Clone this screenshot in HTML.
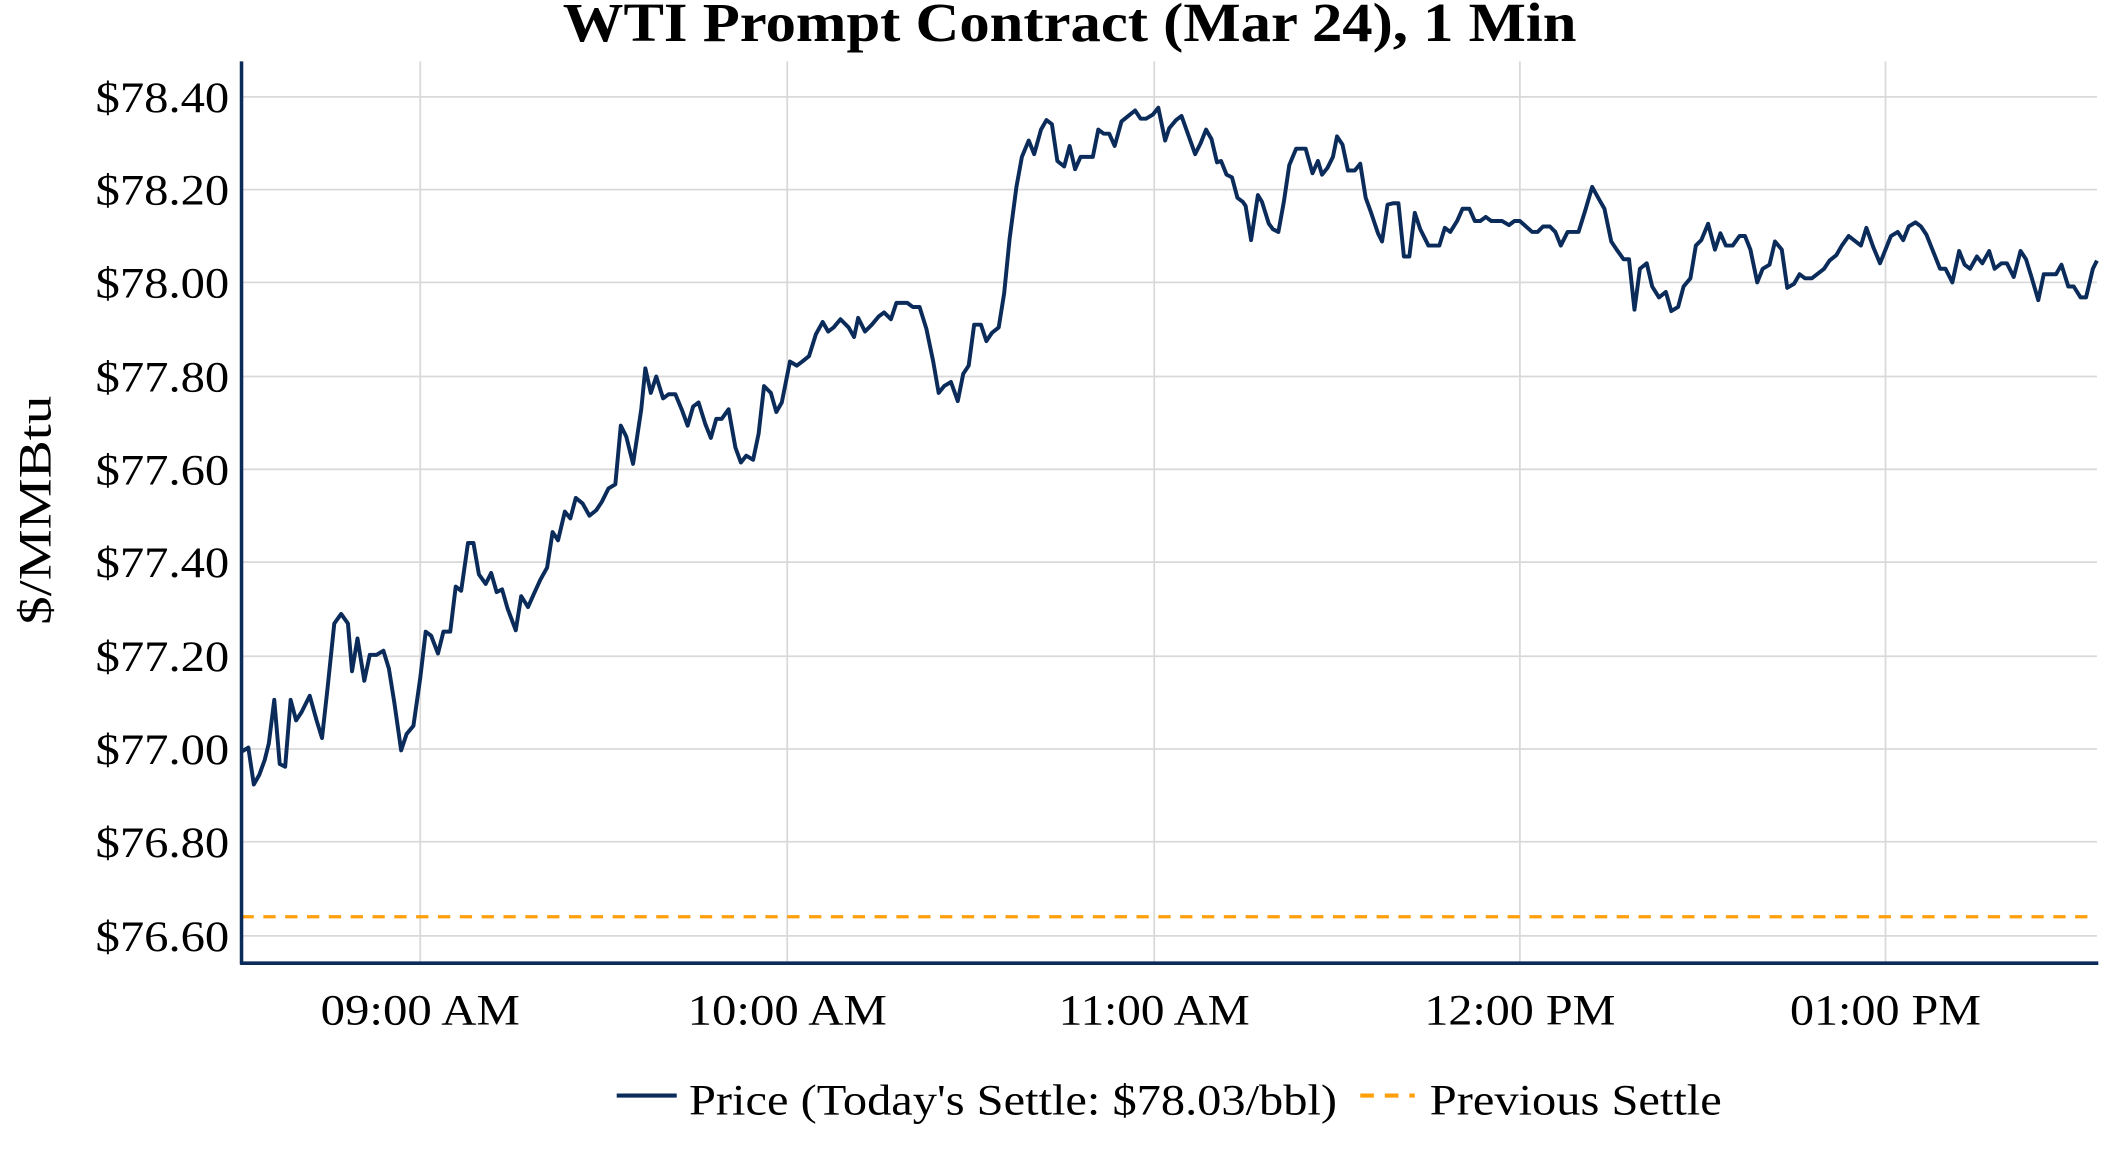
<!DOCTYPE html>
<html><head><meta charset="utf-8"><style>html,body{margin:0;padding:0;background:#fff}svg{display:block}</style></head>
<body>
<svg xmlns="http://www.w3.org/2000/svg" width="2112" height="1152" viewBox="0 0 1548 844.4" font-family="'Liberation Serif', serif">
<rect width="1548" height="845" fill="#fff"/>
<g stroke="#d9d9d9" stroke-width="1.3">
<line x1="177" x2="1537" y1="71" y2="71"/><line x1="177" x2="1537" y1="139" y2="139"/><line x1="177" x2="1537" y1="207" y2="207"/><line x1="177" x2="1537" y1="276" y2="276"/><line x1="177" x2="1537" y1="344" y2="344"/><line x1="177" x2="1537" y1="412" y2="412"/><line x1="177" x2="1537" y1="481" y2="481"/><line x1="177" x2="1537" y1="549" y2="549"/><line x1="177" x2="1537" y1="617" y2="617"/><line x1="177" x2="1537" y1="686" y2="686"/>
<line x1="308" x2="308" y1="45" y2="706"/><line x1="577" x2="577" y1="45" y2="706"/><line x1="846" x2="846" y1="45" y2="706"/><line x1="1114" x2="1114" y1="45" y2="706"/><line x1="1382" x2="1382" y1="45" y2="706"/>
</g>
<line x1="177" x2="1537" y1="672" y2="672" stroke="#ff9f0a" stroke-width="2.4" stroke-dasharray="9,7"/>
<polyline fill="none" stroke="#0b2c5a" stroke-width="2.9" stroke-linejoin="round" points="177,551 182,548 186,575 190,568 194,557 197,545 201,513 205,560 209,562 213,513 217,528 221,522 227,510 232,528 236,541 240,505 245,457 250,450 255,457 258,492 262,468 267,499 271,480 276,480 281,477 285,490 289,515 294,550 298,538 303,532 308,497 312,463 316,466 321,479 325,463 330,463 334,430 338,433 343,398 347,398 351,421 356,428 360,420 364,434 368,432 372,446 378,462 382,437 387,445 391,436 396,425 401,416 405,390 409,396 414,375 418,380 422,365 427,369 432,378 437,374 441,368 446,358 451,355 455,312 459,320 464,340 470,300 473,270 477,288 481,276 486,292 490,289 495,289 500,301 504,312 508,298 512,295 517,311 521,321 525,307 529,307 534,300 539,328 543,339 547,334 552,337 556,318 560,283 565,288 569,302 573,295 579,265 584,268 588,265 593,261 598,245 603,236 607,243 611,240 616,234 622,240 626,247 629,233 634,243 639,238 644,232 648,229 653,234 657,222 661,222 665,222 669,225 674,225 679,241 684,265 688,288 692,283 697,280 702,294 706,274 710,268 714,238 719,238 723,250 727,244 732,240 736,215 740,175 745,137 749,115 754,103 758,113 763,95 767,88 771,91 775,118 780,122 784,107 788,124 792,115 796,115 801,115 805,95 809,98 813,98 817,107 822,89 827,85 832,81 836,87 840,87 845,84 849,79 854,103 857,94 862,88 866,85 871,99 876,113 880,105 884,95 888,102 892,119 895,118 899,128 903,130 907,145 911,148 913,151 917,176 922,143 925,148 930,164 933,168 937,170 941,148 945,121 950,109 957,109 962,127 966,118 969,128 973,123 977,115 980,100 984,106 988,125 993,125 997,120 1001,145 1005,156 1010,171 1013,177 1017,150 1021,149 1025,149 1029,188 1033,188 1037,156 1041,168 1047,180 1051,180 1055,180 1059,167 1063,170 1068,162 1072,153 1077,153 1081,162 1085,162 1089,159 1093,162 1101,162 1106,165 1110,162 1114,162 1123,170 1127,170 1131,166 1136,166 1140,170 1144,180 1149,170 1157,170 1162,154 1167,137 1172,146 1176,153 1181,177 1185,183 1190,190 1194,190 1198,227 1202,197 1207,193 1211,210 1216,218 1221,214 1225,228 1230,225 1234,210 1239,204 1243,180 1247,176 1252,164 1257,183 1261,171 1265,180 1270,180 1275,173 1279,173 1283,183 1288,207 1292,197 1297,194 1301,177 1306,183 1310,211 1315,208 1319,201 1323,204 1328,204 1337,197 1341,191 1346,187 1350,180 1355,173 1364,180 1368,167 1373,181 1378,193 1382,183 1386,173 1391,170 1395,176 1399,166 1404,163 1408,166 1412,172 1418,187 1422,197 1426,197 1431,207 1436,184 1440,194 1444,197 1449,188 1453,193 1458,184 1462,197 1467,193 1471,193 1476,203 1481,184 1485,190 1489,203 1494,220 1498,201 1507,201 1511,194 1516,210 1520,210 1525,218 1529,218 1534,197 1537,191"/>
<line x1="177" x2="177" y1="45" y2="707" stroke="#0b2c5a" stroke-width="2.6"/>
<line x1="176" x2="1538" y1="706" y2="706" stroke="#0b2c5a" stroke-width="2.6"/>
<text x="784" y="30" text-anchor="middle" font-size="40" font-weight="bold" textLength="743" lengthAdjust="spacingAndGlyphs">WTI Prompt Contract (Mar 24), 1 Min</text>
<g font-size="32" text-anchor="end">
<text x="168" y="82" textLength="98" lengthAdjust="spacingAndGlyphs">$78.40</text>
<text x="168" y="150" textLength="98" lengthAdjust="spacingAndGlyphs">$78.20</text>
<text x="168" y="218" textLength="98" lengthAdjust="spacingAndGlyphs">$78.00</text>
<text x="168" y="287" textLength="98" lengthAdjust="spacingAndGlyphs">$77.80</text>
<text x="168" y="355" textLength="98" lengthAdjust="spacingAndGlyphs">$77.60</text>
<text x="168" y="423" textLength="98" lengthAdjust="spacingAndGlyphs">$77.40</text>
<text x="168" y="492" textLength="98" lengthAdjust="spacingAndGlyphs">$77.20</text>
<text x="168" y="560" textLength="98" lengthAdjust="spacingAndGlyphs">$77.00</text>
<text x="168" y="628" textLength="98" lengthAdjust="spacingAndGlyphs">$76.80</text>
<text x="168" y="697" textLength="98" lengthAdjust="spacingAndGlyphs">$76.60</text>
</g>
<g font-size="32" text-anchor="middle">
<text x="308" y="751" textLength="146" lengthAdjust="spacingAndGlyphs">09:00 AM</text>
<text x="577" y="751" textLength="146" lengthAdjust="spacingAndGlyphs">10:00 AM</text>
<text x="846" y="751" textLength="140" lengthAdjust="spacingAndGlyphs">11:00 AM</text>
<text x="1114" y="751" textLength="140" lengthAdjust="spacingAndGlyphs">12:00 PM</text>
<text x="1382" y="751" textLength="140" lengthAdjust="spacingAndGlyphs">01:00 PM</text>
</g>
<text transform="translate(37,374) rotate(-90)" font-size="34" text-anchor="middle" textLength="168" lengthAdjust="spacingAndGlyphs">$/MMBtu</text>
<line x1="452" x2="496" y1="803" y2="803" stroke="#0b2c5a" stroke-width="3"/>
<text x="505" y="817" font-size="32" textLength="475" lengthAdjust="spacingAndGlyphs">Price (Today's Settle: $78.03/bbl)</text>
<line x1="997" x2="1037" y1="803" y2="803" stroke="#ff9f0a" stroke-width="3" stroke-dasharray="10,8"/>
<text x="1048" y="817" font-size="32" textLength="214" lengthAdjust="spacingAndGlyphs">Previous Settle</text>
</svg>
</body></html>
